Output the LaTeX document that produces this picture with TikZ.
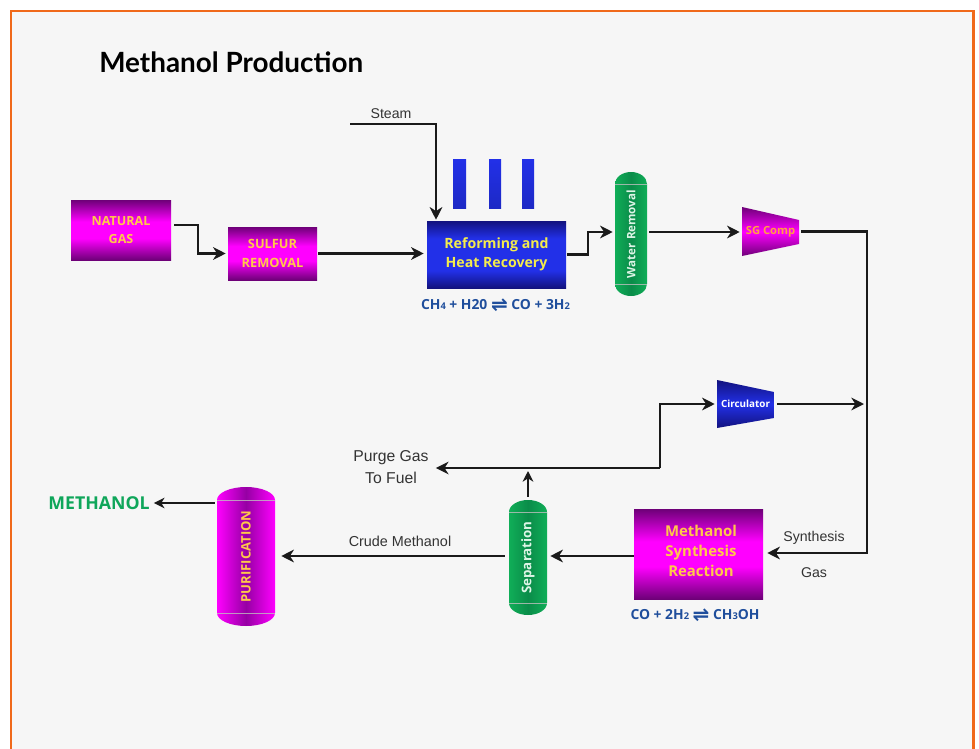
\documentclass[tikz,border=0pt]{standalone}
\usepackage{fontspec}
\setmainfont{Liberation Sans}
\newfontfamily\headfont{Open Sans}
\newfontfamily\titlefont{Lato}
\newfontfamily\symfont{DejaVu Sans}
\usetikzlibrary{arrows.meta,calc}
\definecolor{pagebg}{HTML}{F6F6F6}
\definecolor{frameor}{HTML}{F0691A}
\definecolor{purpdark}{HTML}{6E0078}
\definecolor{purpmid}{HTML}{FF00FF}
\definecolor{vesselpurp}{HTML}{9600A4}
\definecolor{bluedark}{HTML}{12127E}
\definecolor{bluemid}{HTML}{2230E8}
\definecolor{greenedge}{HTML}{10AE58}
\definecolor{greenmid}{HTML}{0A8C49}
\definecolor{labelor}{HTML}{FFC84A}
\definecolor{labelyl}{HTML}{F4EC4C}
\definecolor{compor}{HTML}{FFA040}
\definecolor{vesselwh}{HTML}{DDF5E6}
\definecolor{eqblue}{HTML}{1F4E9C}
\definecolor{prodgreen}{HTML}{0FA65A}
\definecolor{linegray}{HTML}{1A1A1A}
\definecolor{textgray}{HTML}{333333}
\pgfdeclareverticalshading{purpband}{100bp}{color(0bp)=(purpdark); color(25bp)=(purpdark); color(43bp)=(purpmid); color(57bp)=(purpmid); color(75bp)=(purpdark); color(100bp)=(purpdark)}
\pgfdeclareverticalshading{blueband}{100bp}{color(0bp)=(bluedark); color(25bp)=(bluedark); color(38bp)=(bluemid); color(62bp)=(bluemid); color(75bp)=(bluedark); color(100bp)=(bluedark)}
\tikzset{
  x=0.75pt,y=-0.75pt,
  flow/.style={draw=linegray,line width=1.9pt,-{Stealth[length=9.5pt,width=9.5pt,inset=3pt]}},
  flowthin/.style={draw=linegray,line width=1.5pt,-{Stealth[length=8pt,width=8pt,inset=2.5pt]}},
  proc/.style={align=center,inner sep=0pt,text=labelor},
  purpbox/.style={proc,rectangle,shade,shading=purpband},
  bluebox/.style={proc,rectangle,shade,shading=blueband,text=labelyl},
  plain/.style={align=center,inner sep=0pt,text=textgray,font=\fontsize{10.6pt}{13pt}\selectfont},
  eqn/.style={inner sep=0pt,text=eqblue,font=\headfont\bfseries\fontsize{10.4pt}{12pt}\selectfont},
  capline/.style={draw=white!75!black,line width=0.7pt,opacity=.8},
}
\newcommand{\lowdigit}[1]{{\fontsize{7pt}{8pt}\selectfont #1}}
\newcommand{\eqsym}{\raisebox{-1pt}{\symfont\fontsize{15pt}{15pt}\selectfont ⇌}}
% name, left, right, top, bottom, cap height, edge colour, mid colour, label with font
\newcommand{\vessel}[9]{%
  \shade[left color=#7,right color=#7,middle color=#8]
    (#2,#4+#6) arc[x radius={(#3-#2)/2*0.75pt},y radius={#6*0.75pt},start angle=180,end angle=0]
    -- (#3,#5-#6) arc[x radius={(#3-#2)/2*0.75pt},y radius={#6*0.75pt},start angle=0,end angle=-180] -- cycle;
  \draw[capline] (#2,#4+#6) -- (#3,#4+#6);
  \draw[capline] (#2,#5-#6) -- (#3,#5-#6);
  \node[inner sep=0pt,minimum width={(#3-#2)*0.75pt},minimum height={(#5-#4)*0.75pt}] (#1) at ({(#2+#3)/2},{(#4+#5)/2}) {};
  \node[inner sep=0pt,rotate=90] at (#1.center) {#9};
}
% name, left, right, lefttop, leftbottom, righttop, rightbottom, top/bottom colour, mid colour
\newcommand{\machine}[9]{%
  \shade[top color=#8,bottom color=#8,middle color=#9] (#2,#4) -- (#3,#6) -- (#3,#7) -- (#2,#5) -- cycle;
  \node[inner sep=0pt,minimum width={(#3-#2)*0.75pt},minimum height={(#5-#4)*0.75pt}] (#1) at ({(#2+#3)/2},{(#4+#5)/2}) {};
}
\begin{document}
\begin{tikzpicture}
\useasboundingbox (0,0) rectangle (979,749);
\fill[white] (0,0) rectangle (979,749);
\fill[pagebg] (11,11) rectangle (973,749);
\draw[frameor,line width=2.2pt] (11,749) -- (11,11) -- (973.5,11) -- (973.5,749);

\node[anchor=west,inner sep=0pt,font=\titlefont\bfseries\fontsize{20.9pt}{22pt}\selectfont,text=black] (title) at (99,62) {Methanol Production};

% process boxes
\node[purpbox,minimum width=75pt,minimum height=45pt,font=\headfont\bfseries\fontsize{9.4pt}{13.2pt}\selectfont] (natgas) at (121,230) {NATURAL\\GAS};
\node[purpbox,minimum width=66.75pt,minimum height=39.75pt,font=\headfont\bfseries\fontsize{9.6pt}{14pt}\selectfont] (sulfur) at (272.5,253.5) {SULFUR\\REMOVAL};
\node[bluebox,minimum width=104.25pt,minimum height=50.25pt,font=\headfont\bfseries\fontsize{10.6pt}{14.5pt}\selectfont] (reform) at (496.5,254.5) {Reforming and\\Heat Recovery};
\node[purpbox,minimum width=96.75pt,minimum height=67.5pt] (synth) at (698.5,554) {};
\node[proc,font=\headfont\bfseries\fontsize{11.2pt}{15.2pt}\selectfont] (synthlabel) at (701,551) {Methanol\\Synthesis\\Reaction};

% stacks
\fill[top color=bluemid,bottom color=bluemid!85!black] (453,159) rectangle (466,208);
\fill[top color=bluemid,bottom color=bluemid!85!black] (489,159) rectangle (501,208);
\fill[top color=bluemid,bottom color=bluemid!85!black] (522,159) rectangle (534,208);

% vessels
\vessel{water}{615}{647}{172}{296}{12}{greenedge}{greenmid}{\headfont\bfseries\fontsize{8.7pt}{10pt}\selectfont\color{vesselwh}Water Removal}
\vessel{sep}{509}{547}{500}{615}{12}{greenedge}{greenmid}{\headfont\bfseries\fontsize{10pt}{10pt}\selectfont\color{vesselwh}Separation}
\vessel{purif}{217}{275}{487}{626}{13}{purpmid}{vesselpurp}{\headfont\bfseries\fontsize{9.8pt}{10pt}\selectfont\color{labelor}PURIFICATION}

% compressors
\machine{sgcomp}{742}{799}{207}{256}{220}{244}{purpdark}{purpmid}
\node[inner sep=0pt,font=\headfont\bfseries\fontsize{8.4pt}{8pt}\selectfont,text=compor] at (sgcomp.center) {SG Comp};
\machine{circ}{717}{774}{380}{428}{392}{418}{bluedark}{bluemid}
\node[inner sep=0pt,font=\headfont\bfseries\fontsize{7.4pt}{8pt}\selectfont,text=white] at (circ.center) {Circulator};

% labels
\node[plain] (steam) at (391,114) {Steam};
\node[plain,font=\fontsize{11.8pt}{17pt}\selectfont] (purge) at (391,467) {Purge Gas\\To Fuel};
\node[plain,font=\fontsize{10.8pt}{13pt}\selectfont] (crude) at (400,541) {Crude Methanol};
\node[plain] (syngas1) at (814,538) {Synthesis};
\node[plain] (syngas2) at (814,573) {Gas};
\node[inner sep=0pt,font=\headfont\bfseries\fontsize{13.3pt}{15pt}\selectfont,text=prodgreen] (methanol) at (99,503) {METHANOL};
\node[eqn] (eq1) at (495.5,305) {CH\lowdigit{4} + H20 \eqsym{} CO + 3H\lowdigit{2}};
\node[eqn] (eq2) at (695,615) {CO + 2H\lowdigit{2} \eqsym{} CH\lowdigit{3}OH};

% junctions, rows and free ends
\coordinate (steamstart) at (350,124);
\coordinate (steamcorner) at (436,124);
\coordinate (natrow) at (0,225);
\coordinate (sgrow) at (0,232);
\coordinate (mainrow) at (0,253.5);
\coordinate (crudrow) at (0,556);
\coordinate (methrow) at (0,503);
\coordinate (looptop) at (867,231.5);
\coordinate (loopbottom) at (867,553);
\coordinate (loopright) at (867,404);
\coordinate (purgecorner) at (660,468);
\coordinate (purgetee) at (528,468);

% connectors
\draw[flow] ($(natgas.east |- natrow)+(3,0)$) -| (198,253.5) -- ($(sulfur.west |- mainrow)+(-2,0)$);
\draw[flow] ($(sulfur.east |- mainrow)+(1,0)$) -- ($(reform.west |- mainrow)+(-3,0)$);
\draw[flow] (steamstart) -- (steamcorner) -- ($(steamcorner |- reform.north)+(0,-1)$);
\draw[flow] ($(reform.east)+(1,0)$) -| (588,232) -- ($(water.west |- sgrow)+(-2,0)$);
\draw[flow] ($(water.east |- sgrow)+(2,0)$) -- ($(sgcomp.west |- sgrow)+(-2,0)$);
\draw[flow] ($(sgcomp.east |- looptop)+(2,0)$) -- (looptop) -- (loopbottom) -- ($(synth.east |- loopbottom)+(4,0)$);
\draw[flow] ($(circ.east)+(3,0)$) -- ($(loopright)+(-3,0)$);
\draw[flow] (purgecorner) |- ($(circ.west)+(-2,0)$);
\draw[flow] (purgecorner) -- ($(purge.east |- purgecorner)+(7,0)$);
\draw[flowthin] ($(sep.north)+(0,-3)$) -- ($(purgetee)+(0,3)$);
\draw[flow] ($(synth.west |- crudrow)+(0,0)$) -- ($(sep.east |- crudrow)+(3,0)$);
\draw[flow] ($(sep.west |- crudrow)+(-4,0)$) -- ($(purif.east |- crudrow)+(6,0)$);
\draw[flowthin] ($(purif.west |- methrow)+(-2,0)$) -- ($(methanol.east |- methrow)+(4,0)$);
\end{tikzpicture}
\end{document}
